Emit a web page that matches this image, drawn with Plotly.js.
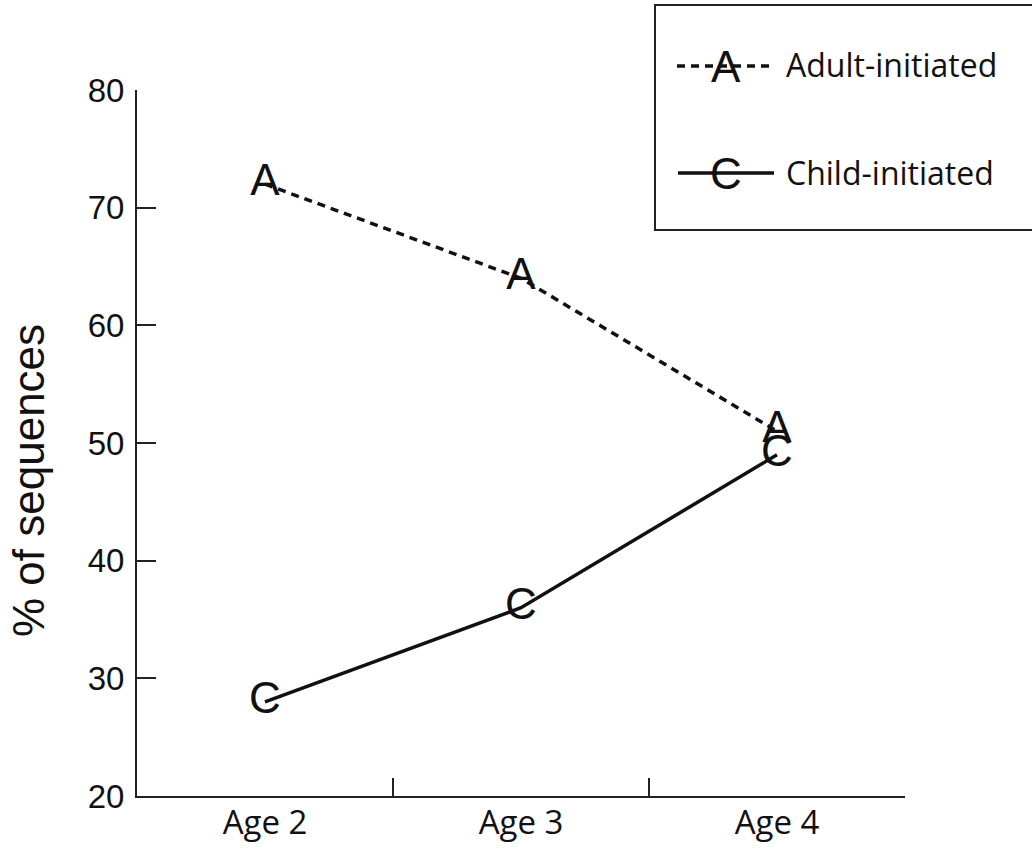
<!DOCTYPE html>
<html>
<head>
<meta charset="utf-8">
<script src="https://cdn.plot.ly/plotly-3.0.1.min.js"></script>
<style>html,body{margin:0;padding:0;background:#fff;}#chart{width:1032px;height:850px;}</style>
</head>
<body>
<div id="chart"></div>
<script>
// ---- data ----
const ages = ['Age 2', 'Age 3', 'Age 4'];
const adultInitiated = [72, 64, 51];
const childInitiated = [28, 36, 49];
const seriesNames = ['Adult-initiated', 'Child-initiated'];
const seriesSymbols = ['A', 'C'];
const yTitle = '% of sequences';
const yTicks = [20, 30, 40, 50, 60, 70, 80];

// ---- geometry helpers (pixel -> paper) ----
const L = 137, R = 905, T = 90, B = 796;
const px = x => (x - L) / (R - L);
const py = y => (B - y) / (B - T);

const ink = '#111';
const markFont = {family: 'Liberation Sans, Arial, sans-serif', size: 44, color: ink};
const dashAdult = '8px,6px';

const traces = [
  {
    x: ages, y: adultInitiated, name: seriesNames[0],
    mode: 'lines+text', text: ages.map(() => seriesSymbols[0]),
    textposition: 'middle center', textfont: markFont,
    line: {color: ink, width: 3.5, dash: dashAdult},
    showlegend: false, hoverinfo: 'x+y+name', cliponaxis: false
  },
  {
    x: ages, y: childInitiated, name: seriesNames[1],
    mode: 'lines+text', text: ages.map(() => seriesSymbols[1]),
    textposition: 'middle center', textfont: markFont,
    line: {color: ink, width: 3.5, dash: 'solid'},
    showlegend: false, hoverinfo: 'x+y+name', cliponaxis: false
  }
];

const legendFont = {family: 'Open Sans, sans-serif', size: 32, color: ink};
const rows = [
  {yc: 66, x0: 677, x1: 770, dash: dashAdult},
  {yc: 173, x0: 678, x1: 774, dash: 'solid'}
];

const shapes = [
  {type: 'rect', xref: 'paper', yref: 'paper', x0: px(655), x1: px(1045), y0: py(230), y1: py(5),
   line: {color: '#222', width: 2}, fillcolor: 'rgba(0,0,0,0)'}
];
const annotations = [
  {xref: 'paper', yref: 'paper', x: px(29), y: py(481), text: yTitle, textangle: -90, showarrow: false,
   xanchor: 'center', yanchor: 'middle',
   font: {family: 'Liberation Sans, Arial, sans-serif', size: 44, color: ink}}
];
rows.forEach((r, i) => {
  shapes.push({type: 'line', xref: 'paper', yref: 'paper', x0: px(r.x0), x1: px(r.x1), y0: py(r.yc), y1: py(r.yc),
    line: {color: ink, width: 3.5, dash: r.dash}});
  annotations.push({xref: 'paper', yref: 'paper', x: px(726), y: py(r.yc), text: seriesSymbols[i], showarrow: false,
    xanchor: 'center', yanchor: 'middle', font: markFont, bgcolor: 'rgba(0,0,0,0)'});
  annotations.push({xref: 'paper', yref: 'paper', x: px(784), y: py(r.yc - 1), text: seriesNames[i], showarrow: false,
    xanchor: 'left', yanchor: 'middle', font: legendFont});
});

const layout = {
  width: 1032, height: 850,
  margin: {l: L, r: 1032 - R, t: T, b: 850 - B, pad: 0},
  paper_bgcolor: '#fff', plot_bgcolor: '#fff',
  showlegend: false,
  xaxis: {
    type: 'category', range: [-0.5, 2.5], fixedrange: true,
    showline: true, linecolor: '#222', linewidth: 2, mirror: false,
    showgrid: false, zeroline: false,
    ticks: 'inside', tickson: 'boundaries', ticklen: 18, tickwidth: 2, tickcolor: '#222',
    tickfont: {family: 'Open Sans, sans-serif', size: 33, color: ink},
    ticklabelstandoff: -4
  },
  yaxis: {
    range: [20, 80], tickvals: yTicks, ticktext: yTicks.map(String), fixedrange: true,
    showline: true, linecolor: '#222', linewidth: 2,
    showgrid: false, zeroline: false,
    ticks: 'inside', ticklen: 19, tickwidth: 2, tickcolor: '#222',
    tickfont: {family: 'Liberation Sans, Arial, sans-serif', size: 33, color: ink},
    ticklabelstandoff: 4
  },
  shapes: shapes,
  annotations: annotations
};

Plotly.newPlot('chart', traces, layout, {displayModeBar: false, staticPlot: true});
</script>
</body>
</html>
